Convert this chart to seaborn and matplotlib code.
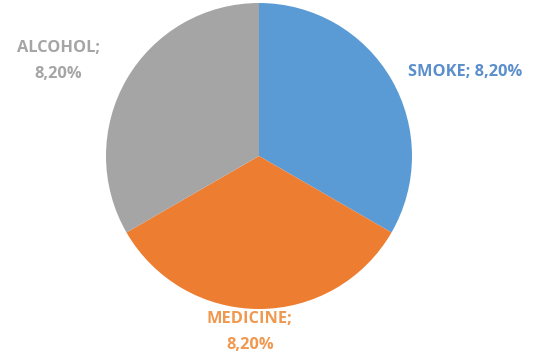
import matplotlib
matplotlib.use("Agg")
import matplotlib.pyplot as plt
import seaborn as sns

categories = ["SMOKE", "MEDICINE", "ALCOHOL"]
values = [8.20, 8.20, 8.20]
slice_colors = ["#5B9BD5", "#ED7D31", "#A5A5A5"]
label_colors = ["#5B8FCB", "#F0984F", "#A5A5A5"]

sns.set_theme(style="white")
plt.rcParams['font.family'] = ['Open Sans', 'DejaVu Sans']

fig = plt.figure(figsize=(5.49, 3.57), dpi=100)
W, H = 549, 357
cx, cy, r = 259, 156, 153
ax = fig.add_axes([(cx - r) / W, (H - cy - r) / H, 2 * r / W, 2 * r / H])
ax.pie(values, colors=slice_colors, startangle=90, counterclock=False,
       wedgeprops=dict(linewidth=0))
ax.set_xlim(-1, 1)
ax.set_ylim(-1, 1)
ax.set_aspect("equal")
ax.axis("off")

def fmt(v):
    return f"{v:.2f}%".replace(".", ",")

texts = [
    (f"{categories[0]}; {fmt(values[0])}", 1.35, 0.55, label_colors[0]),
    (f"{categories[1]};\n{fmt(values[1])}", -0.06, -1.15, label_colors[1]),
    (f"{categories[2]};\n{fmt(values[2])}", -1.31, 0.62, label_colors[2]),
]
for t, x, y, c in texts:
    ax.text(x, y, t, ha="center", va="center", color=c, fontsize=11.8,
            fontweight="bold", linespacing=1.8, clip_on=False)

fig.savefig("out.png", dpi=100, facecolor="white")
